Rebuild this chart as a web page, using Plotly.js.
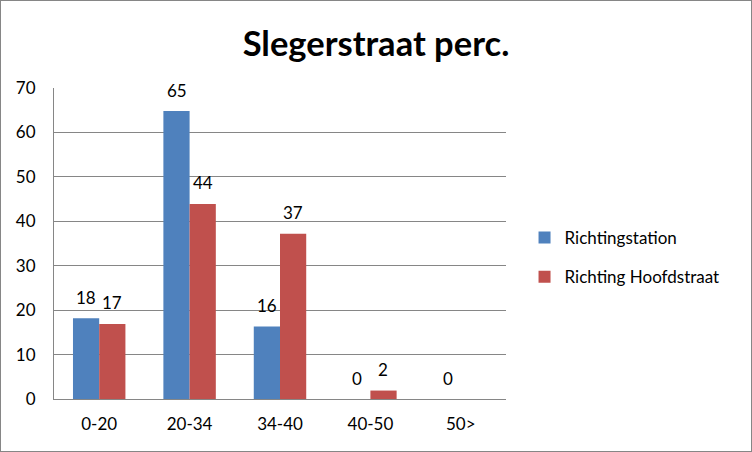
<!DOCTYPE html>
<html><head><meta charset="utf-8">
<script src="https://cdn.plot.ly/plotly-3.0.1.min.js"></script>
<style>html,body{margin:0;padding:0;background:#fff}#c{width:752px;height:452px;box-sizing:border-box;border:1px solid #868686}</style>
</head><body><div id="c"></div>
<script>
const categories = ["0-20", "20-34", "34-40", "40-50", "50>"];
const richtingStation = [18.2, 64.8, 16.3, 0, 0];
const richtingHoofdstraat = [16.9, 43.9, 37.2, 1.9, null];
const seriesNames = ["Richtingstation", "Richting Hoofdstraat"];
const fnt = "Lato, 'Open Sans', sans-serif";
const mk = (y, name, color, g) => ({
  type: "bar", x: categories, y: y, name: name, legendgroup: g,
  marker: {color: color}, hoverinfo: "none"
});
const data = [mk(richtingStation, seriesNames[0], "#4F81BD", "a"), mk(richtingHoofdstraat, seriesNames[1], "#C0504D", "b")];
const annotations = [];
[[richtingStation, -13], [richtingHoofdstraat, 13]].forEach(([vals, dx]) => {
  vals.forEach((v, i) => {
    if (v === null) return;
    annotations.push({x: categories[i], y: v, xref: "x", yref: "y", text: String(Math.round(v)),
      showarrow: false, xshift: dx, yshift: 21, yanchor: "middle", font: {size: 17, color: "#000", family: fnt}});
  });
});
const layout = {
  width: 750, height: 450,
  margin: {l: 53, r: 245, t: 87, b: 52},
  paper_bgcolor: "#fff", plot_bgcolor: "#fff",
  font: {family: fnt, size: 17, color: "#000"},
  title: {text: "<b>Slegerstraat perc.</b>", font: {size: 34.5, family: fnt, color: "#000"}, x: 0.5, xanchor: "center", y: 0.905, yanchor: "middle", xref: "container", yref: "container"},
  barmode: "group", bargap: 0.42, bargroupgap: 0,
  xaxis: {showgrid: false, showline: true, linecolor: "#868686", linewidth: 1, ticks: "", tickfont: {size: 17}, ticklabelstandoff: 10, fixedrange: true},
  yaxis: {range: [0, 70], dtick: 10, showgrid: true, gridcolor: "#868686", gridwidth: 1, showline: true, linecolor: "#868686", linewidth: 1, ticks: "", tickfont: {size: 17}, ticklabelstandoff: 14, zeroline: false, fixedrange: true},
  annotations: annotations,
  showlegend: true,
  legend: {x: 1.041, xanchor: "left", y: 0.455, yanchor: "middle", traceorder: "grouped", tracegroupgap: 14, font: {size: 17, family: fnt}, itemwidth: 30, bgcolor: "rgba(0,0,0,0)"}
};
Plotly.newPlot("c", data, layout, {staticPlot: true, displayModeBar: false});
</script></body></html>
